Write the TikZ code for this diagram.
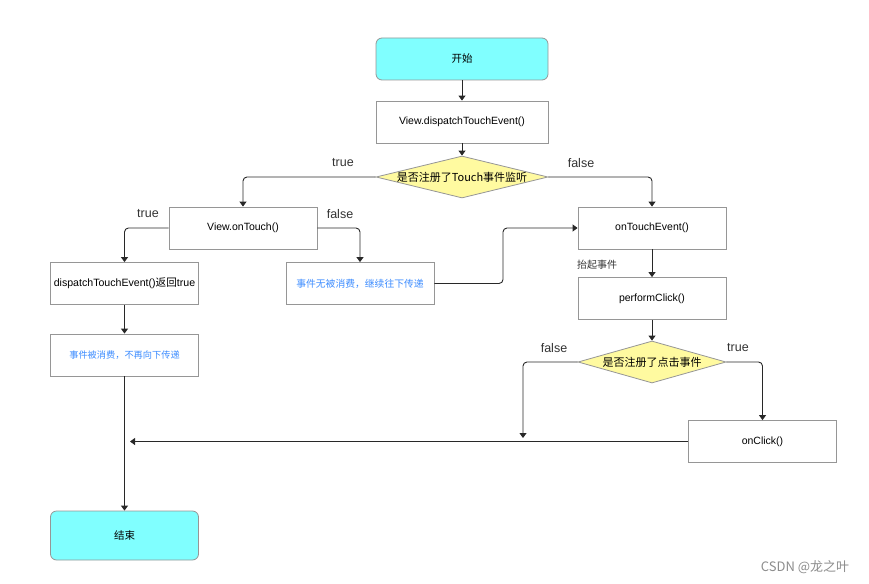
\documentclass[tikz,border=0pt]{standalone}
\usepackage{fontspec}
\setmainfont{Liberation Sans}
\newfontfamily\cjk{Noto Sans CJK SC}
\usetikzlibrary{arrows.meta,shapes.geometric}
\definecolor{cyanfill}{RGB}{128,255,255}
\definecolor{yelfill}{RGB}{255,250,160}
\definecolor{boxline}{RGB}{150,150,150}
\definecolor{bluetxt}{RGB}{60,140,255}
\definecolor{arrowc}{RGB}{40,40,40}
\begin{document}
\begin{tikzpicture}[x=1pt,y=-1pt,
  box/.style={draw=boxline,line width=0.8pt,fill=white,minimum width=148pt,minimum height=42pt,inner sep=0pt,font=\fontsize{10.5}{12}\selectfont},
  wide/.style={box,minimum width=172pt},
  term/.style={box,fill=cyanfill,rounded corners=6pt},
  dia/.style={diamond,draw=boxline,line width=0.8pt,fill=yelfill,inner sep=0pt,minimum width=172pt,minimum height=42pt,font=\fontsize{10.5}{12}\selectfont},
  conn/.style={draw=arrowc,line width=0.9pt,rounded corners=4pt,-{Triangle[width=7pt,length=5pt]}},
  lab/.style={font=\fontsize{12.5}{14}\selectfont,text=black!80,inner sep=0pt}]
\useasboundingbox (0,0) rectangle (869,583);
% nodes
\node[term,minimum width=172pt] (start) at (462,59) {\cjk 开始};
\node[wide] (disp) at (462,122) {View.dispatchTouchEvent()};
\node[dia] (d1) at (462,177) {\makebox[0pt]{\cjk\fontsize{11}{12}\selectfont 是否注册了Touch事件监听}};
\node[box] (touch) at (243,228) {View.onTouch()};
\node[box] (ret) at (124.5,283.5) {\makebox[0pt]{\fontsize{10.6}{12}\selectfont dispatchTouchEvent()\cjk 返回\rmfamily true}};
\node[box] (nc) at (360,283.5) {\makebox[0pt]{\cjk\color{bluetxt}\fontsize{9.8}{11}\selectfont 事件无被消费，继续往下传递}};
\node[box] (cons) at (124.5,355) {\makebox[0pt]{\cjk\color{bluetxt}\fontsize{9.2}{11}\selectfont 事件被消费，不再向下传递}};
\node[box] (ote) at (652,228) {onTouchEvent()};
\node[box] (pc) at (652,298.5) {performClick()};
\node[dia,minimum width=148pt] (d2) at (652,362) {\makebox[0pt]{\cjk\fontsize{11}{12}\selectfont 是否注册了点击事件}};
\node[box] (click) at (762.5,441.5) {onClick()};
\node[term,minimum height=49pt] (end) at (124.5,535.5) {\cjk 结束};
\coordinate (j1) at (503,283.5);
\coordinate (f2) at (523,438);
\coordinate (mg) at (130,441.5);
% connectors
\draw[conn] (start) -- (disp);
\draw[conn] (disp) -- (d1);
\draw[conn] (d1.west) -| (touch.north);
\draw[conn] (d1.east) -| (ote.north);
\draw[conn] (touch.west) -| (ret.north);
\draw[conn] (touch.east) -| (nc.north);
\draw[conn] (ret) -- (cons);
\draw[conn] (nc.east) -- (j1) |- (ote.west);
\draw[conn] (ote) -- (pc);
\draw[conn] (pc) -- (d2);
\draw[conn] (d2.west) -| (f2);
\draw[conn] (d2.east) -| (click.north);
\draw[conn] (click.west) -- (mg);
\draw[conn] (cons) -- (end);
% labels
\node[lab] (l1) at (343,163) {true};
\node[lab] (l2) at (581,163) {false};
\node[lab] (l3) at (148,214) {true};
\node[lab] (l4) at (340,214) {false};
\node[lab] (l5) at (554,348) {false};
\node[lab] (l6) at (738,348) {true};
\node[lab,anchor=west,font=\cjk\fontsize{10}{11}\selectfont] (l7) at (577,265) {抬起事件};
\node[text=black!45,font=\cjk\fontsize{13}{14}\selectfont] (wm) at (805,567) {CSDN @龙之叶};
\end{tikzpicture}
\end{document}
